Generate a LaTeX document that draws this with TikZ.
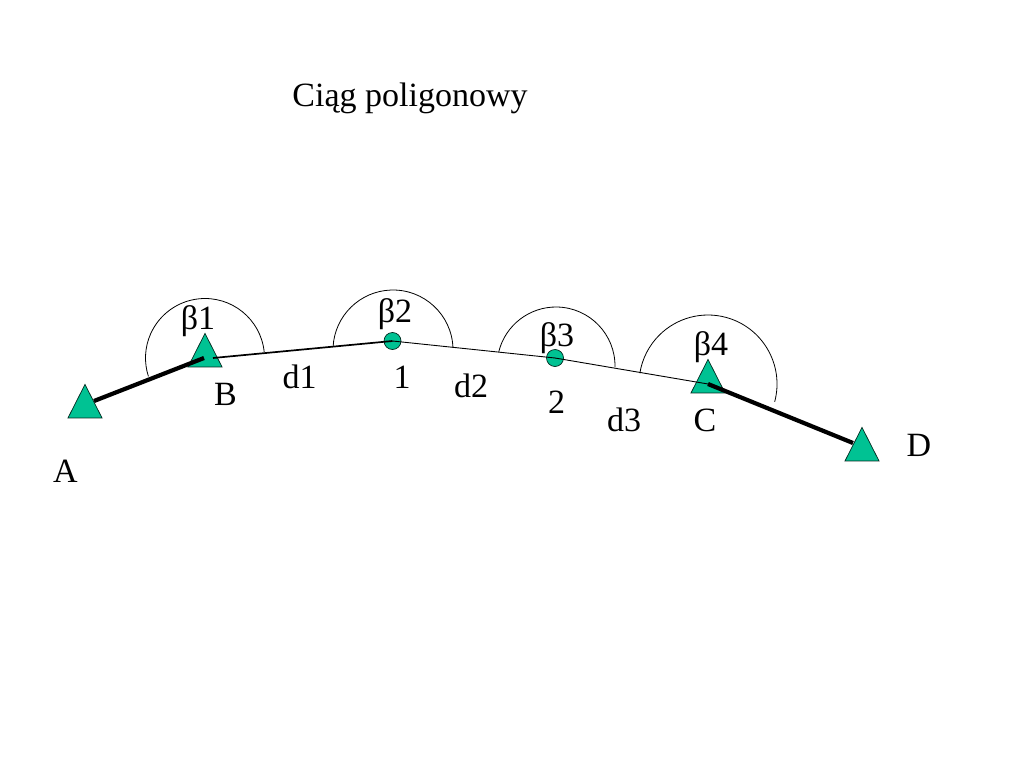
\documentclass[tikz,border=0pt]{standalone}
\usepackage{fontspec}
\setmainfont{Liberation Serif}
\usetikzlibrary{shapes.geometric}
\definecolor{station}{HTML}{00C293}
\tikzset{
  x=1pt,y=-1pt,
  lbl/.style={anchor=base,inner sep=0pt,font=\fontsize{34}{40}\selectfont,text=black},
  tri/.style={draw=black!80!station,line width=0.7pt,fill=station,isosceles triangle,shape border rotate=90,isosceles triangle stretches=true,minimum width=34pt,minimum height=33.5pt,inner sep=0pt,anchor=apex},
  dot/.style={circle,draw=black!80!station,line width=0.7pt,fill=station,minimum size=17pt,inner sep=0pt},
  arcline/.style={line width=0.8pt,black},
  heavy/.style={line width=4.2pt,black},
  mid/.style={line width=1.7pt,black},
  fine/.style={line width=0.9pt,black}
}
\begin{document}
\begin{tikzpicture}
\useasboundingbox (0,0) rectangle (1024,768);
\node[tri] (A) at (85,383.5) {};
\node[tri] (B) at (205,332.5) {};
\node[tri] (C) at (708,358.5) {};
\node[tri] (D) at (862,426.5) {};
\node[dot] (p1) at (392.5,341) {};
\node[dot] (p2) at (555,358) {};
\coordinate (Aend) at (94,401);
\coordinate (Bin) at (204,358);
\coordinate (Bout) at (213,358);
\coordinate (Cin) at (708,384);
\coordinate (Dend) at (853,443);
\coordinate (c1) at (205,358);
\coordinate (c2) at (393,350);
\coordinate (c3) at (556,366);
\coordinate (c4) at (708,384);
\draw[heavy] (Aend) -- (Bin);
\draw[mid] (Bout) -- (p1.center);
\draw[fine] (p1.center) -- (p2.center);
\draw[fine] (p2.center) -- (Cin);
\draw[heavy] (Cin) -- (Dend);
\draw[arcline] ([shift={(6:59.5pt)}]c1) arc[start angle=6,end angle=198,radius=59.5pt];
\draw[arcline] ([shift={(2:60pt)}]c2) arc[start angle=2,end angle=177,radius=60pt];
\draw[arcline] ([shift={(-1:59pt)}]c3) arc[start angle=-1,end angle=166,radius=59pt];
\draw[arcline] ([shift={(-15:69pt)}]c4) arc[start angle=-15,end angle=171,radius=69pt];
\node[lbl] (title) at (410,106) {Ciąg poligonowy};
\node[lbl] (la) at (65.5,482) {A};
\node[lbl] (lb) at (225.5,405) {B};
\node[lbl] (lc) at (705,431) {C};
\node[lbl] (ld) at (919,456) {D};
\node[lbl] (d1) at (299.5,388) {d1};
\node[lbl] (d2) at (471,397) {d2};
\node[lbl] (d3) at (624,431.5) {d3};
\node[lbl] (n1) at (402,388) {1};
\node[lbl] (n2) at (556.5,413) {2};
\node[lbl] (b1) at (198,329.5) {β1};
\node[lbl] (b2) at (395,322) {β2};
\node[lbl] (b3) at (557,346) {β3};
\node[lbl] (b4) at (711,355) {β4};
\end{tikzpicture}
\end{document}
